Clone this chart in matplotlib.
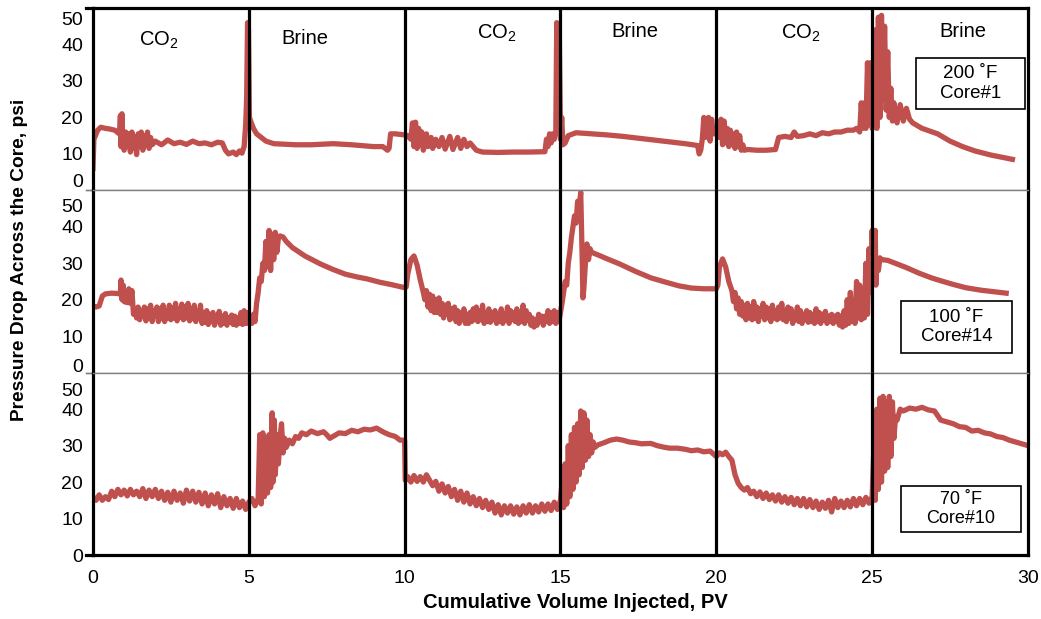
import matplotlib.pyplot as plt
from matplotlib.patches import Rectangle
from matplotlib.transforms import ScaledTranslation

plt.rcParams['font.family'] = ['Liberation Sans', 'DejaVu Sans']
plt.rcParams['mathtext.fontset'] = 'custom'
plt.rcParams['mathtext.rm'] = 'Liberation Sans'

# ---- data: cumulative PV injected vs pressure drop (psi) ----
# 200 F, Core#1
pv_core1 = [
    0.0, 0.03, 0.08, 0.15, 0.25, 0.4, 0.55, 0.7, 0.8, 0.85, 0.88, 0.9, 0.93, 0.96,
    1.0, 1.05, 1.1, 1.15, 1.2, 1.25, 1.3, 1.35, 1.4, 1.45, 1.5, 1.55, 1.6, 1.65, 1.7, 1.75, 1.8, 1.85, 1.9,
    2.0, 2.2, 2.4, 2.6, 2.8, 3.0, 3.2, 3.4, 3.6, 3.8, 4.0, 4.15,
    4.25, 4.35, 4.5, 4.6, 4.7, 4.78, 4.85, 4.9, 4.93, 4.96, 4.99, 5.02,
    5.08, 5.15, 5.25, 5.4, 5.55, 5.8, 6.5, 7.0, 7.7, 8.3, 9.0, 9.3, 9.45, 9.5, 9.55, 9.7, 10.0,
    10.1, 10.2, 10.25, 10.3, 10.35, 10.4, 10.45, 10.5, 10.55, 10.6, 10.7, 10.75, 10.85, 10.9, 11.0, 11.1,
    11.2, 11.3, 11.45, 11.55, 11.7, 11.8, 11.9, 12.0, 12.1, 12.3, 12.5, 13.0, 13.5, 14.0, 14.5,
    14.55, 14.6, 14.65, 14.7, 14.75, 14.8, 14.85, 14.88, 14.92, 14.96, 15.0, 15.04,
    15.08, 15.15, 15.25, 15.5, 16.0, 16.5, 17.0, 17.5, 18.0, 18.5, 19.0, 19.4, 19.45, 19.5, 19.55, 19.6,
    19.65, 19.75, 19.8, 19.85, 19.9, 20.0,
    20.1, 20.15, 20.2, 20.25, 20.3, 20.35, 20.4, 20.45, 20.5, 20.55,
    20.6, 20.65, 20.7, 20.75, 20.8, 20.85, 20.9, 21.0, 21.3, 21.6,
    21.9, 22.0, 22.2, 22.4, 22.5, 22.6, 22.8, 23.0, 23.2, 23.4,
    23.6, 23.8, 24.0, 24.2, 24.4, 24.5, 24.6, 24.65, 24.7, 24.75,
    24.8, 24.85, 24.9, 24.95, 25.0,
    25.05, 25.1, 25.15, 25.2, 25.25, 25.3, 25.35, 25.4, 25.45, 25.5, 25.55, 25.6, 25.65, 25.7,
    25.8, 25.9, 26.0, 26.1, 26.2, 26.3, 26.6, 27.1, 27.5, 27.9, 28.3, 28.8, 29.2, 29.5,
]
dp_core1 = [
    6, 14, 15, 16.5, 17.3, 17, 16.8, 16.5, 15.8, 15.5, 20.5, 12, 21, 13,
    11, 16, 12, 15.5, 10.5, 16, 11.5, 14.5, 9.8, 15.5, 12, 16, 11, 15, 12.5, 16, 11.5, 14.5, 12.5,
    13.5, 12.5, 13.8, 12.8, 13.2, 12.6, 13.5, 12.8, 13, 12.5, 13.2, 13,
    11, 10, 10.5, 9.8, 10.8, 10.2, 12, 18, 25, 46, 44, 20,
    18.5, 17, 15.5, 14.5, 13.5, 12.8, 12.5, 12.5, 12.8, 12.5, 12, 12, 11, 11.5, 15.5, 15.5, 15.2,
    15, 14, 18.5, 12, 18.7, 11.5, 17, 12.5, 16, 11, 15.5, 12, 14.5, 11.5, 14, 12,
    14.5, 11.3, 14.8, 11.2, 14.5, 11.5, 14, 12, 13, 11, 10.5, 10.4, 10.5, 10.5, 10.6,
    14, 12, 15.5, 13, 15.5, 14, 16, 46, 17, 45, 14, 20,
    12.5, 13, 15, 15.8, 15.5, 15.2, 14.8, 14.3, 13.8, 13.3, 12.8, 12.3, 10, 11, 14, 20,
    14.5, 20, 13.5, 19.5, 15.5, 15.5,
    14.5, 19.5, 12.5, 19, 13, 17, 12, 16.5, 12.5, 15.5,
    11.5, 16, 12, 15, 11, 12.5, 11, 11.2, 11, 11,
    11.2, 14.5, 14.8, 14.5, 16, 14.8, 15, 15.5, 15, 15.8,
    15.5, 16, 16, 16.5, 16.5, 17, 16, 24, 17, 24,
    17, 35, 18, 35, 17,
    18, 44, 17, 47.5, 20, 48, 25, 45, 22, 38, 20, 28, 19, 24,
    18.5, 23.5, 19, 22.5, 19.5, 18.5, 17, 15.5, 13.5, 12, 10.8, 9.7, 9, 8.5,
]

# 100 F, Core#14
pv_core14 = [
    0.0, 0.1, 0.2, 0.3, 0.4, 0.6, 0.8, 0.88, 0.9, 0.93, 0.97, 1.0, 1.1, 1.15, 1.2, 1.25, 1.3,
    1.35, 1.4, 1.45, 1.5, 1.55, 1.6, 1.65, 1.7, 1.75, 1.8,
    1.85, 1.9, 1.95, 2.0, 2.05, 2.1, 2.15, 2.2, 2.25, 2.3,
    2.35, 2.4, 2.45, 2.5, 2.55, 2.6, 2.65, 2.7, 2.75, 2.8,
    2.85, 2.9, 2.95, 3.0, 3.05, 3.1, 3.15, 3.2, 3.25, 3.3,
    3.35, 3.4, 3.45, 3.5, 3.55, 3.6, 3.65, 3.7, 3.75, 3.8,
    3.85, 3.9, 3.95, 4.0, 4.05, 4.1, 4.15, 4.2, 4.25, 4.3,
    4.35, 4.4, 4.45, 4.5, 4.55, 4.6, 4.65, 4.7, 4.75, 4.8,
    4.85, 4.9, 4.95, 5.0,
    5.05, 5.1, 5.15, 5.2, 5.25, 5.3, 5.35, 5.4, 5.45, 5.5,
    5.55, 5.6, 5.65, 5.7, 5.75, 5.8, 5.85, 5.9, 5.95, 6.0,
    6.1, 6.2, 6.4, 6.8, 7.3, 7.7, 8.1, 8.5, 8.8, 9.2,
    9.6, 10.0,
    10.05, 10.1, 10.2, 10.3, 10.4, 10.5, 10.6,
    10.65, 10.7, 10.75, 10.8, 10.85, 10.9, 10.95, 11.0, 11.05, 11.1,
    11.15, 11.2, 11.25, 11.3, 11.35, 11.4, 11.45, 11.5, 11.55, 11.6,
    11.65, 11.7, 11.75, 11.8, 11.85, 11.9, 11.95, 12.0, 12.05, 12.1,
    12.15, 12.2, 12.25, 12.3, 12.35, 12.4, 12.45, 12.5, 12.55, 12.6,
    12.65, 12.7, 12.75, 12.8, 12.85, 12.9, 12.95, 13.0, 13.05, 13.1,
    13.15, 13.2, 13.25, 13.3, 13.35, 13.4, 13.45, 13.5, 13.55, 13.6,
    13.65, 13.7, 13.75, 13.8, 13.85, 13.9, 13.95, 14.0, 14.05, 14.1,
    14.15, 14.2, 14.25, 14.3, 14.35, 14.4, 14.45, 14.5, 14.55, 14.6,
    14.65, 14.7, 14.75, 14.8, 14.85, 14.9, 14.95, 15.0,
    15.05, 15.1, 15.15, 15.2, 15.25, 15.3, 15.35, 15.4, 15.45, 15.5,
    15.55, 15.6, 15.65, 15.7, 15.72, 15.75, 15.8, 15.85, 15.9, 15.95,
    16.0, 16.2, 16.5, 16.9, 17.4, 17.9, 18.3, 18.8, 19.2, 19.6,
    20.0,
    20.05, 20.1, 20.2, 20.3, 20.4, 20.5,
    20.55, 20.6, 20.65, 20.7, 20.75, 20.8, 20.85, 20.9, 20.95, 21.0,
    21.05, 21.1, 21.15, 21.2, 21.25, 21.3, 21.35, 21.4, 21.45, 21.5,
    21.55, 21.6, 21.65, 21.7, 21.75, 21.8, 21.85, 21.9, 21.95, 22.0,
    22.05, 22.1, 22.15, 22.2, 22.25, 22.3, 22.35, 22.4, 22.45, 22.5,
    22.55, 22.6, 22.65, 22.7, 22.75, 22.8, 22.85, 22.9, 22.95, 23.0,
    23.05, 23.1, 23.15, 23.2, 23.25, 23.3, 23.35, 23.4, 23.45, 23.5,
    23.55, 23.6, 23.65, 23.7, 23.75, 23.8, 23.85, 23.9, 23.95, 24.0,
    24.05, 24.1, 24.15, 24.2, 24.25, 24.3, 24.35, 24.4, 24.45, 24.5,
    24.55, 24.6, 24.65, 24.7, 24.75, 24.8, 24.85, 24.9, 24.95, 25.0,
    25.05, 25.1,
    25.12, 25.15, 25.2, 25.25, 25.3, 25.5, 25.8, 26.1, 26.5, 26.9, 27.2, 27.6, 28.0, 28.5, 29.1, 29.3,
]
dp_core14 = [
    18.3, 18, 18.3, 21, 21.6, 21.8, 21.7, 21.5, 25.4, 20, 24, 19.5, 19.2, 23, 19, 22.5, 16,
    17.5, 15, 18, 14.5, 17, 15.5, 18, 14.2, 17.5, 15,
    18.5, 14, 17, 15.5, 18, 14, 17.5, 14.8, 18.5, 14,
    17, 15, 18.5, 14.5, 17.8, 15, 19, 14.2, 17.5, 15.2,
    18.8, 14.5, 18, 15, 19, 14.2, 17.5, 14.8, 18.5, 14,
    17, 15, 18.5, 13.5, 16.5, 13.8, 17, 13.2, 16, 14,
    16.5, 13, 15.5, 14, 16.8, 13, 15.5, 13.5, 16.2, 13,
    15, 13.8, 15.8, 13.2, 15.5, 13, 15, 13.5, 16.5, 13.2,
    17, 13.5, 16.5, 13.5,
    15, 13.5, 16, 14, 19, 22, 26, 25, 30, 28,
    36, 29, 39, 28, 38, 31, 38.5, 33, 37, 37.5,
    37.2, 36, 34.3, 32, 29.8, 28.3, 27, 26.2, 25.7, 24.8,
    24.1, 23.3,
    23.5, 27, 31, 32, 29.5, 25.5, 22,
    20, 22.5, 18, 21.5, 17, 21, 16.5, 20, 16.5, 20.5,
    16, 19, 15, 18.5, 16, 19, 14.5, 17.5, 15, 18,
    14, 17, 13.5, 16.5, 14.5, 17.5, 13.5, 16, 13.5, 16.5,
    14, 17.5, 14.5, 18, 14, 17, 14.5, 18.5, 13.5, 16.5,
    14, 17.5, 13.8, 16.5, 14.5, 17, 13.5, 16, 14, 17.5,
    13.5, 16, 14.5, 18, 13.5, 17, 14.5, 16.5, 14, 17.5,
    13.5, 16.5, 14, 18.5, 13.5, 17, 14.5, 16, 13, 15,
    12.5, 14.5, 13, 16, 14, 15.5, 13, 15.5, 14, 17,
    13.5, 16.5, 14, 17, 13.5, 16.5, 14, 16.5,
    19, 22, 25, 24, 30, 33, 37, 40, 43, 41,
    47, 45, 49.5, 30, 20.5, 23, 30, 35.3, 31, 34,
    33, 32.3, 31.2, 29.8, 27.8, 26, 25, 23.8, 23.2, 23,
    23,
    24, 29, 31.2, 29, 25, 22.5,
    19.5, 22, 17.5, 20.5, 16, 19.5, 15.5, 18.5, 14.5, 19,
    15, 18, 14.5, 19.5, 15, 18, 14, 17.5, 15.5, 19,
    14.5, 18, 15, 17.5, 14, 18.5, 15, 17, 14.5, 18,
    15, 19, 14.5, 17, 14, 18, 15, 17.5, 13.5, 16.5,
    14.5, 18, 14, 17, 13.5, 16, 14.5, 17, 13.8, 16.5,
    14, 16, 13.5, 17.5, 14, 16.5, 13.5, 16, 14.5, 16.8,
    13.5, 15.5, 14, 16, 13.5, 15.5, 14, 16, 13, 15.5,
    12.5, 17, 13, 20, 13.5, 22, 14, 19, 13.5, 25,
    15, 24, 14.5, 20, 15, 30, 16, 34, 22, 39,
    25, 39,
    24, 31, 28, 31.5, 31, 30.8, 29.8, 28.8, 27.3, 26, 25.2, 24.2, 23.3, 22.6, 22, 21.8,
]

# 70 F, Core#10
pv_core10 = [
    0.0, 0.1, 0.2, 0.3, 0.4, 0.5, 0.6, 0.7, 0.8, 0.9,
    1.0, 1.1, 1.2, 1.3, 1.4, 1.5, 1.6, 1.7, 1.8, 1.9,
    2.0, 2.1, 2.2, 2.3, 2.4, 2.5, 2.6, 2.7, 2.8, 2.9,
    3.0, 3.1, 3.2, 3.3, 3.4, 3.5, 3.6, 3.7, 3.8, 3.9,
    4.0, 4.1, 4.2, 4.3, 4.4, 4.5, 4.6, 4.7, 4.8, 4.9,
    5.0,
    5.1, 5.2, 5.3, 5.35, 5.4, 5.45, 5.5, 5.55, 5.6, 5.65,
    5.7, 5.75, 5.78, 5.82, 5.85, 5.9, 5.95, 6.0, 6.05, 6.1,
    6.15, 6.2, 6.3, 6.4, 6.5, 6.6, 6.7, 6.85, 7.0, 7.2,
    7.4, 7.5, 7.6, 7.7, 7.9, 8.1, 8.3, 8.5, 8.7, 8.9,
    9.1, 9.3, 9.5, 9.7, 9.85, 10.0,
    10.02,
    10.1, 10.2, 10.3, 10.4, 10.5, 10.6, 10.7, 10.8, 10.9, 11.0,
    11.1, 11.2, 11.3, 11.4, 11.5, 11.6, 11.7, 11.8, 11.9, 12.0,
    12.1, 12.2, 12.3, 12.4, 12.5, 12.6, 12.7, 12.8, 12.9, 13.0,
    13.1, 13.2, 13.3, 13.4, 13.5, 13.6, 13.7, 13.8, 13.9, 14.0,
    14.1, 14.2, 14.3, 14.4, 14.5, 14.6, 14.7, 14.8, 14.9,
    15.0, 15.05, 15.1, 15.15, 15.2, 15.25, 15.3, 15.35, 15.4, 15.45,
    15.5, 15.55, 15.6, 15.65, 15.7, 15.75, 15.8, 15.85, 15.9, 15.95,
    16.0, 16.05, 16.1, 16.2, 16.4, 16.6, 16.8, 17.0, 17.2, 17.4,
    17.6, 17.9, 18.1, 18.3, 18.5, 18.75, 19.0, 19.2, 19.4, 19.6,
    19.8, 20.0,
    20.1, 20.2, 20.3, 20.4, 20.5, 20.6, 20.7, 20.8, 20.9, 21.0,
    21.1, 21.2, 21.3, 21.4, 21.5, 21.6, 21.7, 21.8, 21.9, 22.0,
    22.1, 22.2, 22.3, 22.4, 22.5, 22.6, 22.7, 22.8, 22.9, 23.0,
    23.1, 23.2, 23.3, 23.4, 23.5, 23.6, 23.7, 23.8, 23.9, 24.0,
    24.1, 24.2, 24.3, 24.4, 24.5, 24.6, 24.7, 24.8, 24.9,
    25.0, 25.05, 25.1, 25.15, 25.2, 25.25, 25.3, 25.35, 25.4, 25.45,
    25.5, 25.55, 25.6, 25.65, 25.7, 25.75, 25.8, 25.9, 26.0, 26.2,
    26.4, 26.6, 26.8, 27.0, 27.2, 27.4, 27.6, 27.8, 28.0, 28.2,
    28.4, 28.6, 28.8, 29.0, 29.2, 29.4, 29.6, 29.8, 30.0,
]
dp_core10 = [
    16, 15, 16.5, 15, 16, 15.2, 17.5, 16, 18, 16.5,
    17.8, 16.2, 18, 16.5, 17.5, 16, 18.2, 15.5, 17.8, 16,
    18, 15.5, 17.5, 15, 17.2, 14.5, 17.5, 15, 17, 14.2,
    17.8, 14.8, 17.5, 14.5, 17.2, 14, 17, 13.5, 16.5, 14,
    16.8, 13, 16, 13.5, 15.5, 12.8, 15.5, 13, 14.8, 12.5,
    14.5,
    15.5, 13.5, 15.5, 33, 14, 33.5, 16, 32, 17, 33,
    18.5, 39, 20, 37, 22, 33, 25, 32, 36, 28,
    32, 29.5, 31.5, 30.5, 32.5, 32, 33.5, 33, 34, 33.3,
    33.8, 33, 32, 32.5, 33.5, 33.3, 34.2, 33.8, 34.5, 34.3,
    34.8, 33.8, 33, 32.5, 31.5, 31.5,
    20.5,
    21.5, 20, 21.8, 20.2, 21.5, 20, 22, 20.5, 19, 20.2,
    17.5, 19.5, 17, 18.8, 16, 18, 15, 17.5, 14.5, 17,
    14, 16, 13.5, 15.5, 13, 15, 12.5, 14.5, 11.5, 13.8,
    11, 13.5, 11.5, 13.5, 11.2, 13.2, 11, 13.5, 11.5, 13.8,
    11.5, 13.5, 11.8, 14, 12, 14, 12.2, 14.5, 12.5,
    15, 20, 13, 25, 14, 30, 16, 33, 18, 35,
    20, 36, 22, 39.5, 24, 39, 26, 37, 27, 33,
    28, 31, 29.5, 30.2, 30.8, 31.5, 31.8, 31.5, 31, 30.8,
    30.5, 30.6, 30, 29.6, 29.3, 29.3, 29, 28.6, 28.8, 28.3,
    28.5, 27,
    28, 27.5, 28.2, 27, 26, 22, 19.7, 18.5, 17.8, 18.5,
    16.8, 17.5, 16, 17.3, 15.5, 17, 15.2, 16.5, 14.8, 16.5,
    14.5, 16, 14.2, 15.8, 13.8, 15.5, 13.5, 15.5, 13.2, 15.2,
    13, 14.8, 12.5, 14.5, 12.8, 15, 11.8, 15.5, 13, 14.8,
    13, 15, 13.2, 15.5, 13.5, 15.5, 13.8, 15.8, 14.2,
    16, 28, 15, 40, 18, 43, 20, 43.5, 23, 42,
    24, 43.5, 27, 42, 32, 38, 37, 40, 39.5, 40.3,
    40, 40.5, 39.8, 39.5, 37, 36.5, 36, 35.2, 35, 34,
    34.2, 33.5, 33.2, 32.5, 32.2, 31.5, 31, 30.5, 30,
]

slug_bounds = [5, 10, 15, 20, 25]
slug_names = ['CO$_2$', 'Brine', 'CO$_2$', 'Brine', 'CO$_2$', 'Brine']
y_ticks = [0, 10, 20, 30, 40, 50]
x_ticks = [0, 5, 10, 15, 20, 25, 30]
core_labels = ['200 ˚F\nCore#1', '100 ˚F\nCore#14', '70 ˚F\nCore#10']

RED = '#C0504D'

fig = plt.figure(figsize=(10.41, 6.19), dpi=100)
left, width, height = 0.0893, 0.8982, 0.2945
bottoms = [0.6925, 0.398, 0.1034]
series = [(pv_core1, dp_core1), (pv_core14, dp_core14), (pv_core10, dp_core10)]
# pixel nudges for the "0" and "50" tick labels of each panel (as in the original)
label_shift = [(10, -10), (7, -15), (-1, -17)]
boxes = [(0.880, 0.445, 0.117, 0.280), (0.864, 0.108, 0.119, 0.284), (0.864, 0.127, 0.128, 0.250)]
box_font = [13.5, 13.5, 13]

axes = []
for i, (pv, dp) in enumerate(series):
    ax = fig.add_axes([left, bottoms[i], width, height])
    axes.append(ax)
    ax.plot(pv, dp, color=RED, lw=3.8, zorder=2)
    for b in slug_bounds:
        ax.axvline(b, color='black', lw=2.3, zorder=3)
    ax.set_xlim(0, 30)
    ax.set_ylim(0, 50)

    for side in ['left', 'right']:
        ax.spines[side].set_color('black')
        ax.spines[side].set_linewidth(2.3)
    ax.spines['top'].set_color('black' if i == 0 else '#808080')
    ax.spines['top'].set_linewidth(2.3 if i == 0 else 1.0)
    ax.spines['bottom'].set_color('black' if i == 2 else '#808080')
    ax.spines['bottom'].set_linewidth(2.3 if i == 2 else 1.0)
    # short stubs of the horizontal frame lines to the left of the axis
    for yy, c, w in [(1, 'black' if i == 0 else '#808080', 2.3 if i == 0 else 1.0),
                     (0, 'black' if i == 2 else '#808080', 2.3 if i == 2 else 1.0)]:
        ax.plot([-0.0075, 0], [yy, yy], transform=ax.transAxes, color=c, lw=w, clip_on=False)

    ax.set_yticks(y_ticks)
    ax.set_yticklabels([str(t) for t in y_ticks])
    ax.tick_params(axis='y', length=0, pad=7, labelsize=14)
    ax.set_xticks(x_ticks)
    if i == 2:
        ax.set_xticklabels([str(t) for t in x_ticks])
        ax.tick_params(axis='x', direction='in', length=3, width=1, color='#808080',
                       pad=11, labelsize=14)
    else:
        ax.tick_params(axis='x', length=0, labelbottom=False)

    labels = ax.get_yticklabels()
    up0, up50 = label_shift[i]
    labels[0].set_transform(labels[0].get_transform() + ScaledTranslation(0, up0 / 100, fig.dpi_scale_trans))
    labels[-1].set_transform(labels[-1].get_transform() + ScaledTranslation(0, up50 / 100, fig.dpi_scale_trans))

    bx, by, bw, bh = boxes[i]
    ax.add_patch(Rectangle((bx, by), bw, bh, transform=ax.transAxes, facecolor='white',
                           edgecolor='black', lw=1.2, zorder=4))
    ax.text(bx + bw / 2, by + bh / 2, core_labels[i], transform=ax.transAxes, ha='center',
            va='center', fontsize=box_font[i], linespacing=1.2, zorder=5)

# slug labels along the top of the first panel
name_x = [2.1, 6.8, 12.95, 17.4, 22.7, 27.9]
name_y = [41.2, 41.6, 43.0, 43.6, 43.0, 43.6]
for nx, ny, name in zip(name_x, name_y, slug_names):
    axes[0].text(nx, ny, name, ha='center', va='center', fontsize=14.5, zorder=5)

fig.text(0.553, 0.026, 'Cumulative Volume Injected, PV', ha='center', va='center',
         fontsize=14.5, fontweight='bold')
fig.text(0.019, 0.58, 'Pressure Drop Across the Core, psi', ha='center', va='center',
         rotation=90, fontsize=13.8, fontweight='bold')

fig.savefig('out.png', dpi=100)
